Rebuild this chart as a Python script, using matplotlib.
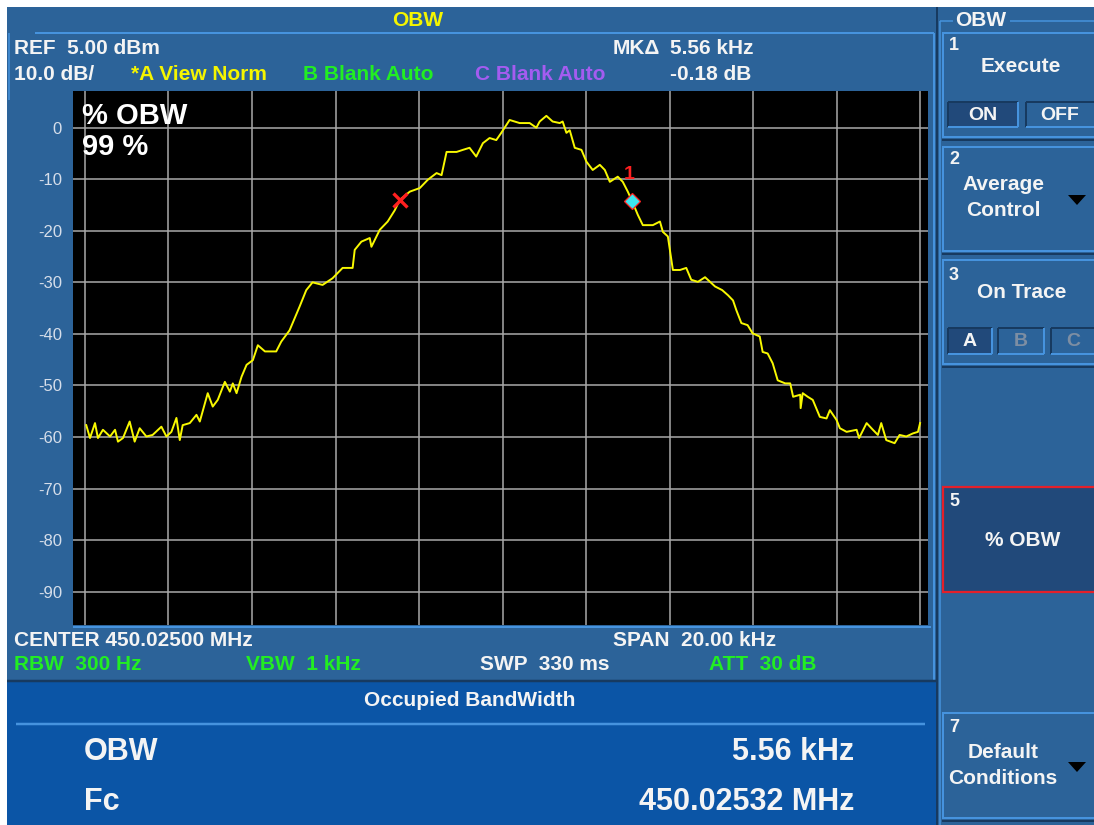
import matplotlib
matplotlib.use("Agg")
import matplotlib.pyplot as plt
from matplotlib.patches import Rectangle, Polygon

plt.rcParams['font.family'] = ['Liberation Sans', 'DejaVu Sans']

# trace A, offset from center in kHz and level in dBm
freq_khz = [-9.97, -9.88, -9.76, -9.69, -9.57, -9.40, -9.28, -9.21, -9.09, -8.93,
            -8.81, -8.69, -8.53, -8.38, -8.17, -8.05, -7.93, -7.81, -7.73, -7.66,
            -7.49, -7.33, -7.25, -7.06, -6.94, -6.82, -6.65, -6.53, -6.46, -6.37,
            -6.25, -6.13, -5.98, -5.86, -5.69, -5.42, -5.30, -5.10, -4.86, -4.70,
            -4.55, -4.31, -4.07, -3.83, -3.59, -3.54, -3.38, -3.18, -3.14, -2.94,
            -2.75, -2.58, -2.46, -2.22, -1.98, -1.79, -1.58, -1.46, -1.34, -1.10,
            -0.95, -0.79, -0.63, -0.47, -0.31, -0.15, -0.03, 0.17, 0.41, 0.65,
            0.81, 0.89, 1.05, 1.20, 1.37, 1.44, 1.53, 1.61, 1.73, 1.89,
            2.01, 2.16, 2.33, 2.45, 2.57, 2.76, 2.88, 3.00, 3.10, 3.24,
            3.36, 3.60, 3.77, 3.84, 3.96, 4.08, 4.25, 4.40, 4.52, 4.68,
            4.85, 5.09, 5.26, 5.40, 5.52, 5.60, 5.72, 5.87, 5.99, 6.16,
            6.23, 6.35, 6.47, 6.59, 6.77, 6.89, 6.96, 7.13, 7.14, 7.19,
            7.31, 7.43, 7.60, 7.76, 7.84, 8.00, 8.08, 8.24, 8.48, 8.54,
            8.72, 8.87, 8.99, 9.07, 9.19, 9.39, 9.51, 9.67, 9.83, 9.95, 10.0]
level_dbm = [-57.7, -60.2, -57.3, -60.2, -58.6, -59.9, -58.6, -60.9, -60.2, -57.0,
             -60.9, -58.3, -59.9, -59.6, -58.0, -59.9, -59.0, -56.3, -60.6, -57.7,
             -57.3, -55.7, -57.0, -51.5, -54.1, -52.8, -49.3, -51.2, -49.6, -51.5,
             -48.3, -46.0, -45.1, -42.2, -43.4, -43.4, -41.5, -39.3, -34.7, -31.5,
             -30.0, -30.5, -29.2, -27.2, -27.2, -23.7, -22.1, -21.4, -23.1, -19.8,
             -18.2, -16.0, -14.0, -12.4, -11.7, -10.1, -8.8, -9.2, -4.7, -4.7,
             -4.3, -3.9, -5.6, -3.0, -2.0, -2.4, -1.0, 1.5, 0.9, 0.9,
             0.0, 1.2, 2.3, 1.2, 0.9, 1.2, -1.0, -0.5, -3.9, -4.3,
             -6.6, -8.2, -7.2, -8.2, -10.5, -9.5, -10.5, -12.4, -14.18, -16.9,
             -18.9, -18.9, -18.2, -20.2, -21.1, -27.6, -27.6, -27.2, -29.5, -29.9,
             -29.0, -30.8, -31.5, -32.5, -33.5, -35.4, -37.9, -38.3, -39.9, -40.5,
             -43.5, -43.8, -45.7, -49.0, -49.6, -49.6, -52.2, -51.8, -54.4, -51.5,
             -52.2, -52.8, -56.1, -56.4, -54.8, -56.7, -58.3, -59.0, -58.6, -60.2,
             -57.3, -58.6, -59.6, -57.3, -60.6, -61.2, -59.6, -59.9, -59.3, -59.0, -57.3]

# 99 % OBW edges (kHz offset, dBm)
obw_lo_khz, obw_lo_dbm = -2.46, -14.0
obw_hi_khz, obw_hi_dbm = 3.10, -14.18

center_mhz = 450.025
span_khz = 20.0
y_ticks = [0, -10, -20, -30, -40, -50, -60, -70, -80, -90]
x_grid = [-10, -8, -6, -4, -2, 0, 2, 4, 6, 8, 10]

W, H = 1094, 825
PANEL = '#2c6399'
LIGHT = '#4693de'
DARK = '#173a60'
LOWER = '#0b55a6'
DOT = '#21497a'
TXT = '#f4f4f4'
YEL = '#f5f500'
GRN = '#22ee22'
PUR = '#a45cf0'
RED = '#ff2020'

fig = plt.figure(figsize=(W / 100, H / 100), dpi=100, facecolor='white')
bg = fig.add_axes([0, 0, 1, 1])
bg.set_xlim(0, W)
bg.set_ylim(H, 0)
bg.axis('off')


def box(x0, y0, x1, y1, fc, ec='none', lw=0, z=1):
    bg.add_patch(Rectangle((x0, y0), x1 - x0, y1 - y0, facecolor=fc,
                           edgecolor=ec, linewidth=lw, zorder=z))


def line(xs, ys, c, px=1.5, z=2):
    bg.plot(xs, ys, color=c, lw=px * 0.72, zorder=z, solid_capstyle='butt')


def txt(x, y, s, c=TXT, size=15, ha='left', weight='bold', z=5):
    bg.text(x, y, s, color=c, fontsize=size, ha=ha, va='center',
            fontweight=weight, zorder=z)


# main screen, lower result panel, softkey column
box(7, 7, 936, 682, PANEL)
box(7, 682, 936, 825, LOWER)
box(936, 7, W, H, PANEL)
line([35, 934], [33, 33], LIGHT, 2)
line([8.5, 8.5], [33, 100], LIGHT, 1.5)
line([933.5, 933.5], [33, 682], LIGHT, 2)
line([7, 936], [680.5, 680.5], DARK, 2.5)
line([16, 925], [723.5, 723.5], LIGHT, 2.5)
line([73, 931], [626.5, 626.5], LIGHT, 2)

# header
txt(418, 20, 'OBW', YEL, 15, ha='center')
txt(14, 48, 'REF  5.00 dBm')
txt(14, 75, '10.0 dB/')
txt(131, 75, '*A View Norm', YEL)
txt(303, 75, 'B Blank Auto', GRN)
txt(475, 75, 'C Blank Auto', PUR)
txt(613, 48, 'MK\u0394')
txt(670, 48, f'{obw_hi_khz - obw_lo_khz:.2f} kHz')
txt(670, 75, f'{obw_hi_dbm - obw_lo_dbm:.2f} dB')

# footer settings
txt(14, 640, f'CENTER {center_mhz:.5f} MHz')
txt(613, 640, f'SPAN  {span_khz:.2f} kHz')
txt(14, 665, 'RBW  300 Hz', GRN)
txt(246, 665, 'VBW  1 kHz', GRN)
txt(480, 665, 'SWP  330 ms')
txt(709, 665, 'ATT  30 dB', GRN)

# result panel
obw = obw_hi_khz - obw_lo_khz
fc = center_mhz + (obw_lo_khz + obw_hi_khz) / 2 / 1000
txt(470, 701, 'Occupied BandWidth', size=15, ha='center')
txt(84, 752, 'OBW', size=22)
txt(854, 752, f'{obw:.2f} kHz', size=22, ha='right')
txt(84, 802, 'Fc', size=22)
txt(854, 802, f'{fc:.5f} MHz', size=22, ha='right')

# softkey column
line([937, 937], [7, H], DARK, 2)
line([939.5, 939.5], [20.5, H], LIGHT, 1.5)
line([939.5, 953], [20.5, 20.5], LIGHT, 1.5)
line([1010, W], [20.5, 20.5], LIGHT, 1.5)
txt(981, 20, 'OBW', size=15, ha='center')


def key(y0, y1):
    line([942.5, 942.5], [y0, y1], LIGHT, 2)
    line([942, W], [y0, y0], LIGHT, 2)
    line([942, W], [y1, y1], LIGHT, 2)
    line([942, W], [y1 + 3, y1 + 3], DARK, 2)


def arrow(x, y):
    bg.add_patch(Polygon([[x - 9, y - 5], [x + 9, y - 5], [x, y + 5]],
                         closed=True, facecolor='black', zorder=4))


def button(x0, y0, x1, y1, fc):
    box(x0, y0, x1, y1, fc, z=3)
    line([x0, x1], [y0, y0], DARK, 2, z=4)
    line([x0, x0], [y0, y1], DARK, 2, z=4)
    line([x0, x1], [y1, y1], LIGHT, 2, z=4)
    line([x1, x1], [y0, y1], LIGHT, 2, z=4)


key(33, 137)
txt(949, 45, '1', size=13)
txt(1021, 67, 'Execute', ha='center')
button(948, 102, 1018, 127, DOT)
button(1026, 102, 1095, 127, PANEL)
txt(983, 115, 'ON', size=14, ha='center')
txt(1060, 115, 'OFF', size=14, ha='center')

key(147, 251)
txt(949, 160, '2', size=13)
txt(1003, 185, 'Average', ha='center')
txt(1003, 211, 'Control', ha='center')
arrow(1077, 200)

key(260, 364)
txt(949, 275, '3', size=13)
txt(1022, 293, 'On Trace', ha='center')
button(948, 328, 992, 354, DOT)
button(998, 328, 1044, 354, PANEL)
button(1051, 328, 1095, 354, PANEL)
txt(970, 341, 'A', size=14, ha='center')
txt(1021, 341, 'B', '#7d8ea3', 14, ha='center')
txt(1073, 341, 'C', '#7d8ea3', 14, ha='center')

box(943, 487, 1096, 592, DOT, ec='#e4202a', lw=1.6, z=3)
txt(949, 502, '5', size=13)
txt(1023, 540, '% OBW', ha='center')

key(713, 818)
txt(949, 728, '7', size=13)
txt(1003, 753, 'Default', ha='center')
txt(1003, 778, 'Conditions', ha='center')
arrow(1077, 767)

# spectrum display
ax = fig.add_axes([73 / W, 1 - 625 / H, (928 - 73) / W, (625 - 91) / H])
ax.set_facecolor('black')
ax.set_xlim(-10.287, 10.19)
ax.set_ylim(-96.47, 7.12)
for s in ax.spines.values():
    s.set_visible(False)
ax.set_xticks(x_grid)
ax.set_xticklabels([])
ax.set_yticks(y_ticks)
ax.set_yticklabels([str(v) for v in y_ticks], color='#d6deea', fontsize=12)
ax.tick_params(length=0, pad=8)
ax.grid(True, color='#a9a9a9', lw=1.1)
ax.set_axisbelow(True)

ax.plot(freq_khz, level_dbm, color='#f8f800', lw=1.4, zorder=3)
ax.plot(obw_lo_khz, obw_lo_dbm, marker='x', ms=10.5, mew=2.4, color=RED, zorder=4)
ax.plot(obw_hi_khz, obw_hi_dbm, marker='D', ms=8.5, mfc='#3ce6f0', mec=RED, mew=0.9, zorder=4)
ax.annotate('1', (obw_hi_khz, obw_hi_dbm), xytext=(-2, 19), textcoords='offset points',
            color=RED, fontsize=14, fontweight='bold', ha='center', va='center')

ax.text(82, 116, '% OBW', transform=bg.transData, color='white', fontsize=21,
        fontweight='bold', va='center')
ax.text(82, 147, '99 %', transform=bg.transData, color='white', fontsize=21,
        fontweight='bold', va='center')

fig.savefig('out.png', dpi=100, facecolor='white')
